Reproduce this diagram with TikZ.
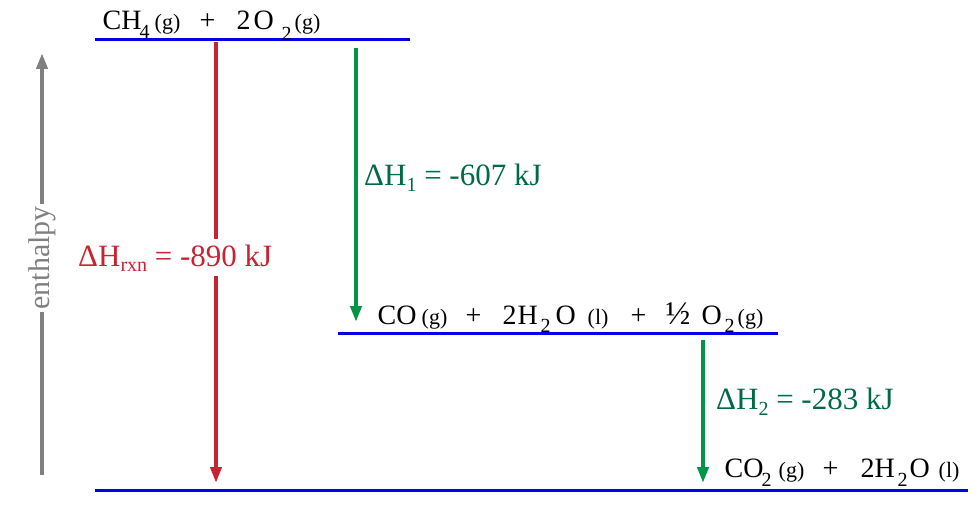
\documentclass[tikz,border=0pt]{standalone}
\usepackage{fontspec}
\setmainfont{Liberation Serif}
\usetikzlibrary{arrows.meta}
\definecolor{lvlblue}{RGB}{0,0,230}
\definecolor{rxnred}{RGB}{200,35,50}
\definecolor{arrgreen}{RGB}{0,150,70}
\definecolor{txtgreen}{RGB}{0,105,70}
\definecolor{axgray}{RGB}{128,128,128}
\newcommand\lo[3]{\raisebox{-#1pt}{\fontsize{#2}{#2}\selectfont #3}}
\newcommand\stt[1]{{\fontsize{22}{22}\selectfont #1}}
\newcommand\at[2]{\makebox[0pt][l]{\hspace*{#1pt}#2}}
\begin{document}
\begin{tikzpicture}[x=1pt,y=-1pt,
 level/.style={draw=lvlblue, line width=3pt},
 harrow/.style={line width=4pt, -{Triangle[length=16pt,width=11pt]}},
 species/.style={anchor=base west, inner sep=0pt, font=\fontsize{28}{28}\selectfont},
 dhlabel/.style={anchor=base west, inner xsep=0pt, inner ysep=5pt, font=\fontsize{31}{31}\selectfont},
]
\useasboundingbox (0,0) rectangle (979,508);

% levels
\coordinate (t1) at (95,40);   \coordinate (t2) at (410,40);
\coordinate (m1) at (338,333); \coordinate (m2) at (778,333);
\coordinate (b1) at (95,490);  \coordinate (b2) at (968,490);
\draw[level] (t1) -- (t2);
\draw[level] (m1) -- (m2);
\draw[level] (b1) -- (b2);

% species labels
\node[species] (top) at (102,30) {\at{0}{CH}\at{37}{\lo{9}{20}{4}}\at{52}{\stt{(g)}}\at{97}{+}\at{134}{2}\at{151}{O}\at{179}{\lo{11}{20}{2}}\at{192}{\stt{(g)}}};
\node[species] (mid) at (377,324) {\at{0}{CO}\at{44}{\stt{(g)}}\at{88}{+}\at{125}{2}\at{140}{H}\at{163}{\lo{8}{20}{2}}\at{178}{O}\at{210}{\stt{(l)}}\at{253}{+}\at{288}{{\fontsize{33}{33}\selectfont ½}}\at{324}{O}\at{347}{\lo{8}{20}{2}}\at{360}{\stt{(g)}}};
\node[species] (bot) at (724,477) {\at{0}{CO}\at{37}{\lo{9}{20}{2}}\at{54}{\stt{(g)}}\at{98}{+}\at{136}{2}\at{150}{H}\at{173}{\lo{9}{20}{2}}\at{185}{O}\at{214}{\stt{(l)}}};

% enthalpy axis
\coordinate (ax0) at (42,475); \coordinate (ax1) at (42,53);
\draw[harrow, axgray] (ax0) -- (ax1);
\node[rotate=90, fill=white, inner xsep=2pt, inner ysep=0pt, text=axgray,
      font=\fontsize{30}{30}\selectfont] (enth) at (42,258) {enthalpy};

% overall reaction
\coordinate (rs) at (216,42); \coordinate (re) at (216,483);
\draw[harrow, rxnred] (rs) -- (re);
\node[dhlabel, fill=white, text=rxnred] (dhr) at (78,266) {ΔH\lo{5}{20}{rxn} = -890 kJ};

% step 1
\coordinate (g1s) at (356,48); \coordinate (g1e) at (356,322);
\draw[harrow, arrgreen] (g1s) -- (g1e);
\node[dhlabel, text=txtgreen] (dh1) at (364,185) {ΔH\lo{6}{20}{1} = -607 kJ};

% step 2
\coordinate (g2s) at (703,340); \coordinate (g2e) at (703,483);
\draw[harrow, arrgreen] (g2s) -- (g2e);
\node[dhlabel, text=txtgreen] (dh2) at (716,409) {ΔH\lo{6}{20}{2} = -283 kJ};
\end{tikzpicture}
\end{document}
